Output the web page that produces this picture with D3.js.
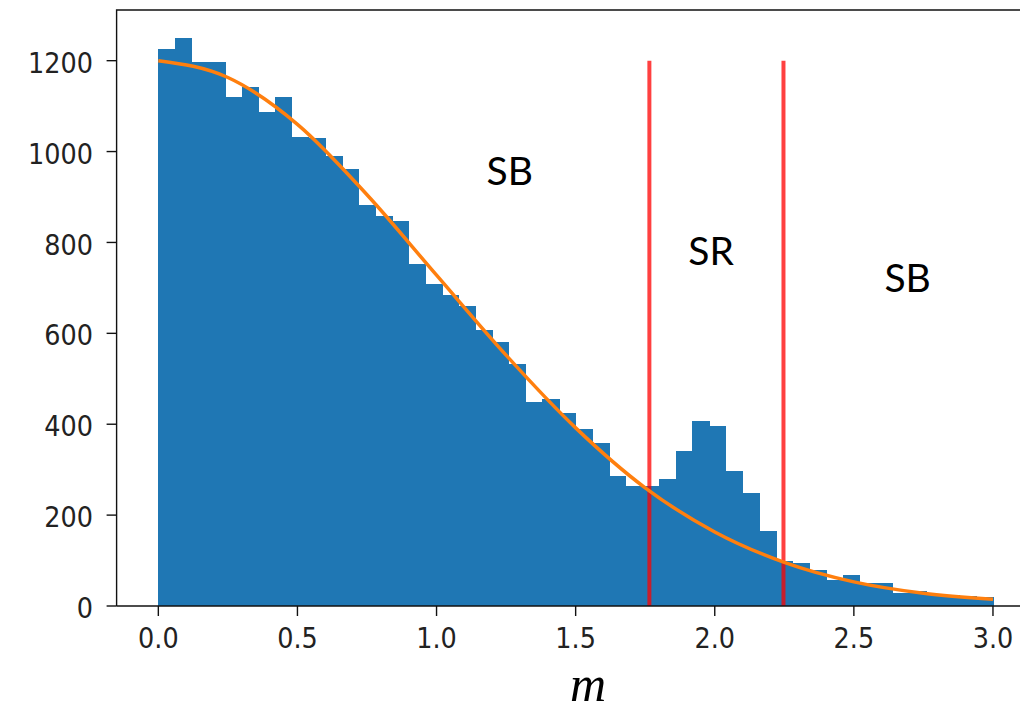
<!DOCTYPE html>
<html>
<head>
<meta charset="utf-8">
<script src="https://cdn.jsdelivr.net/npm/d3@7"></script>
<style>
  html, body { margin: 0; padding: 0; background: #fff; }
  svg { display: block; }
</style>
</head>
<body>
<svg id="chart" width="1020" height="712"></svg>
<script>
// ---- data ----
const binRange = [0, 3];
const counts = [1226, 1249, 1196, 1196, 1119, 1141, 1088, 1119, 1033, 1030,
                991, 961, 883, 859, 847, 752, 709, 684, 660, 607,
                581, 533, 450, 455, 424, 389, 358, 286, 263, 263,
                280, 341, 407, 395, 297, 249, 165, 100, 94, 80,
                57, 68, 50, 51, 29, 34, 27, 24, 21, 19];
const fitX = [0, 0.25, 0.5, 0.75, 1.0, 1.25, 1.5, 1.75, 2.0, 2.25, 2.5, 2.75, 3.0];
const fitY = [1200, 1163, 1060, 905, 728, 552, 392, 260, 163, 96, 53, 28, 15];
const cutLines = [1.765, 2.247];
const cutTop = 1200;
const xTicks = [0.0, 0.5, 1.0, 1.5, 2.0, 2.5, 3.0];
const yTicks = [0, 200, 400, 600, 800, 1000, 1200];
const regionLabels = ["SB", "SR", "SB"];
const regionX = [1.18, 1.905, 2.61];
const regionY = [927, 750, 690];
const xLabel = "m";

// ---- scales ----
const svg = d3.select("#chart");
const x = d3.scaleLinear().domain([-0.15, 3.15]).range([116.6, 1034.7]);
const y = d3.scaleLinear().domain([0, 1311.5]).range([606, 10]);

const nb = counts.length;
const bw = (binRange[1] - binRange[0]) / nb;
const bins = counts.map((c, i) => ({ x0: binRange[0] + i * bw, x1: binRange[0] + (i + 1) * bw, c }));

// bars
svg.append("g").attr("shape-rendering", "crispEdges")
  .selectAll("rect").data(bins).join("rect")
  .attr("x", d => x(d.x0))
  .attr("width", d => x(d.x1) - x(d.x0) + 0.6)
  .attr("y", d => y(d.c))
  .attr("height", d => y(0) - y(d.c))
  .attr("fill", "#1f77b4");

// red cut lines
svg.append("g").selectAll("line").data(cutLines).join("line")
  .attr("x1", d => x(d)).attr("x2", d => x(d))
  .attr("y1", y(0)).attr("y2", y(cutTop))
  .attr("stroke", "red").attr("stroke-opacity", 0.75).attr("stroke-width", 4);

// fit curve
const fit = fitX.map((v, i) => [v, fitY[i]]);
svg.append("path").datum(fit)
  .attr("d", d3.line().x(d => x(d[0])).y(d => y(d[1])).curve(d3.curveMonotoneX))
  .attr("fill", "none").attr("stroke", "#ff7f0e").attr("stroke-width", 3.5);

// spines
const spine = svg.append("g").attr("stroke", "#111").attr("stroke-width", 1.4).attr("fill", "none");
spine.append("path").attr("d", `M${x(-0.15)},${y(0)}V${y(1311.5)}H1020`);
spine.append("path").attr("d", `M${x(-0.15)},${y(0)}H1020`);

// x ticks
const xg = svg.append("g");
xTicks.forEach(t => {
  xg.append("line").attr("x1", x(t)).attr("x2", x(t)).attr("y1", y(0)).attr("y2", y(0) + 10)
    .attr("stroke", "#111").attr("stroke-width", 1.4);
  xg.append("g").attr("transform", `translate(${x(t)},${638}) scale(0.88,1)`)
    .append("text").attr("text-anchor", "middle").attr("dominant-baseline", "central")
    .attr("font-family", "DejaVu Sans").attr("font-size", 29).attr("fill", "#222")
    .text(d3.format(".1f")(t));
});

// y ticks
const yg = svg.append("g");
yTicks.forEach(t => {
  yg.append("line").attr("x1", x(-0.15) - 10).attr("x2", x(-0.15)).attr("y1", y(t)).attr("y2", y(t))
    .attr("stroke", "#111").attr("stroke-width", 1.4);
  yg.append("g").attr("transform", `translate(${93},${y(t) + 2}) scale(0.88,1)`)
    .append("text").attr("text-anchor", "end").attr("dominant-baseline", "central")
    .attr("font-family", "DejaVu Sans").attr("font-size", 29).attr("fill", "#222")
    .text(String(t));
});

// region labels
svg.append("g").selectAll("text").data(regionLabels).join("text")
  .attr("x", (d, i) => x(regionX[i]))
  .attr("y", (d, i) => y(regionY[i]))
  .attr("font-family", "Lato, 'Noto Sans', sans-serif")
  .attr("font-size", 39).attr("fill", "#000")
  .text(d => d);

// x axis label
svg.append("text").attr("x", 588).attr("y", 701).attr("text-anchor", "middle")
  .attr("font-family", "'Liberation Serif', serif").attr("font-style", "italic")
  .attr("font-size", 50).attr("fill", "#000").text(xLabel);
</script>
</body>
</html>
